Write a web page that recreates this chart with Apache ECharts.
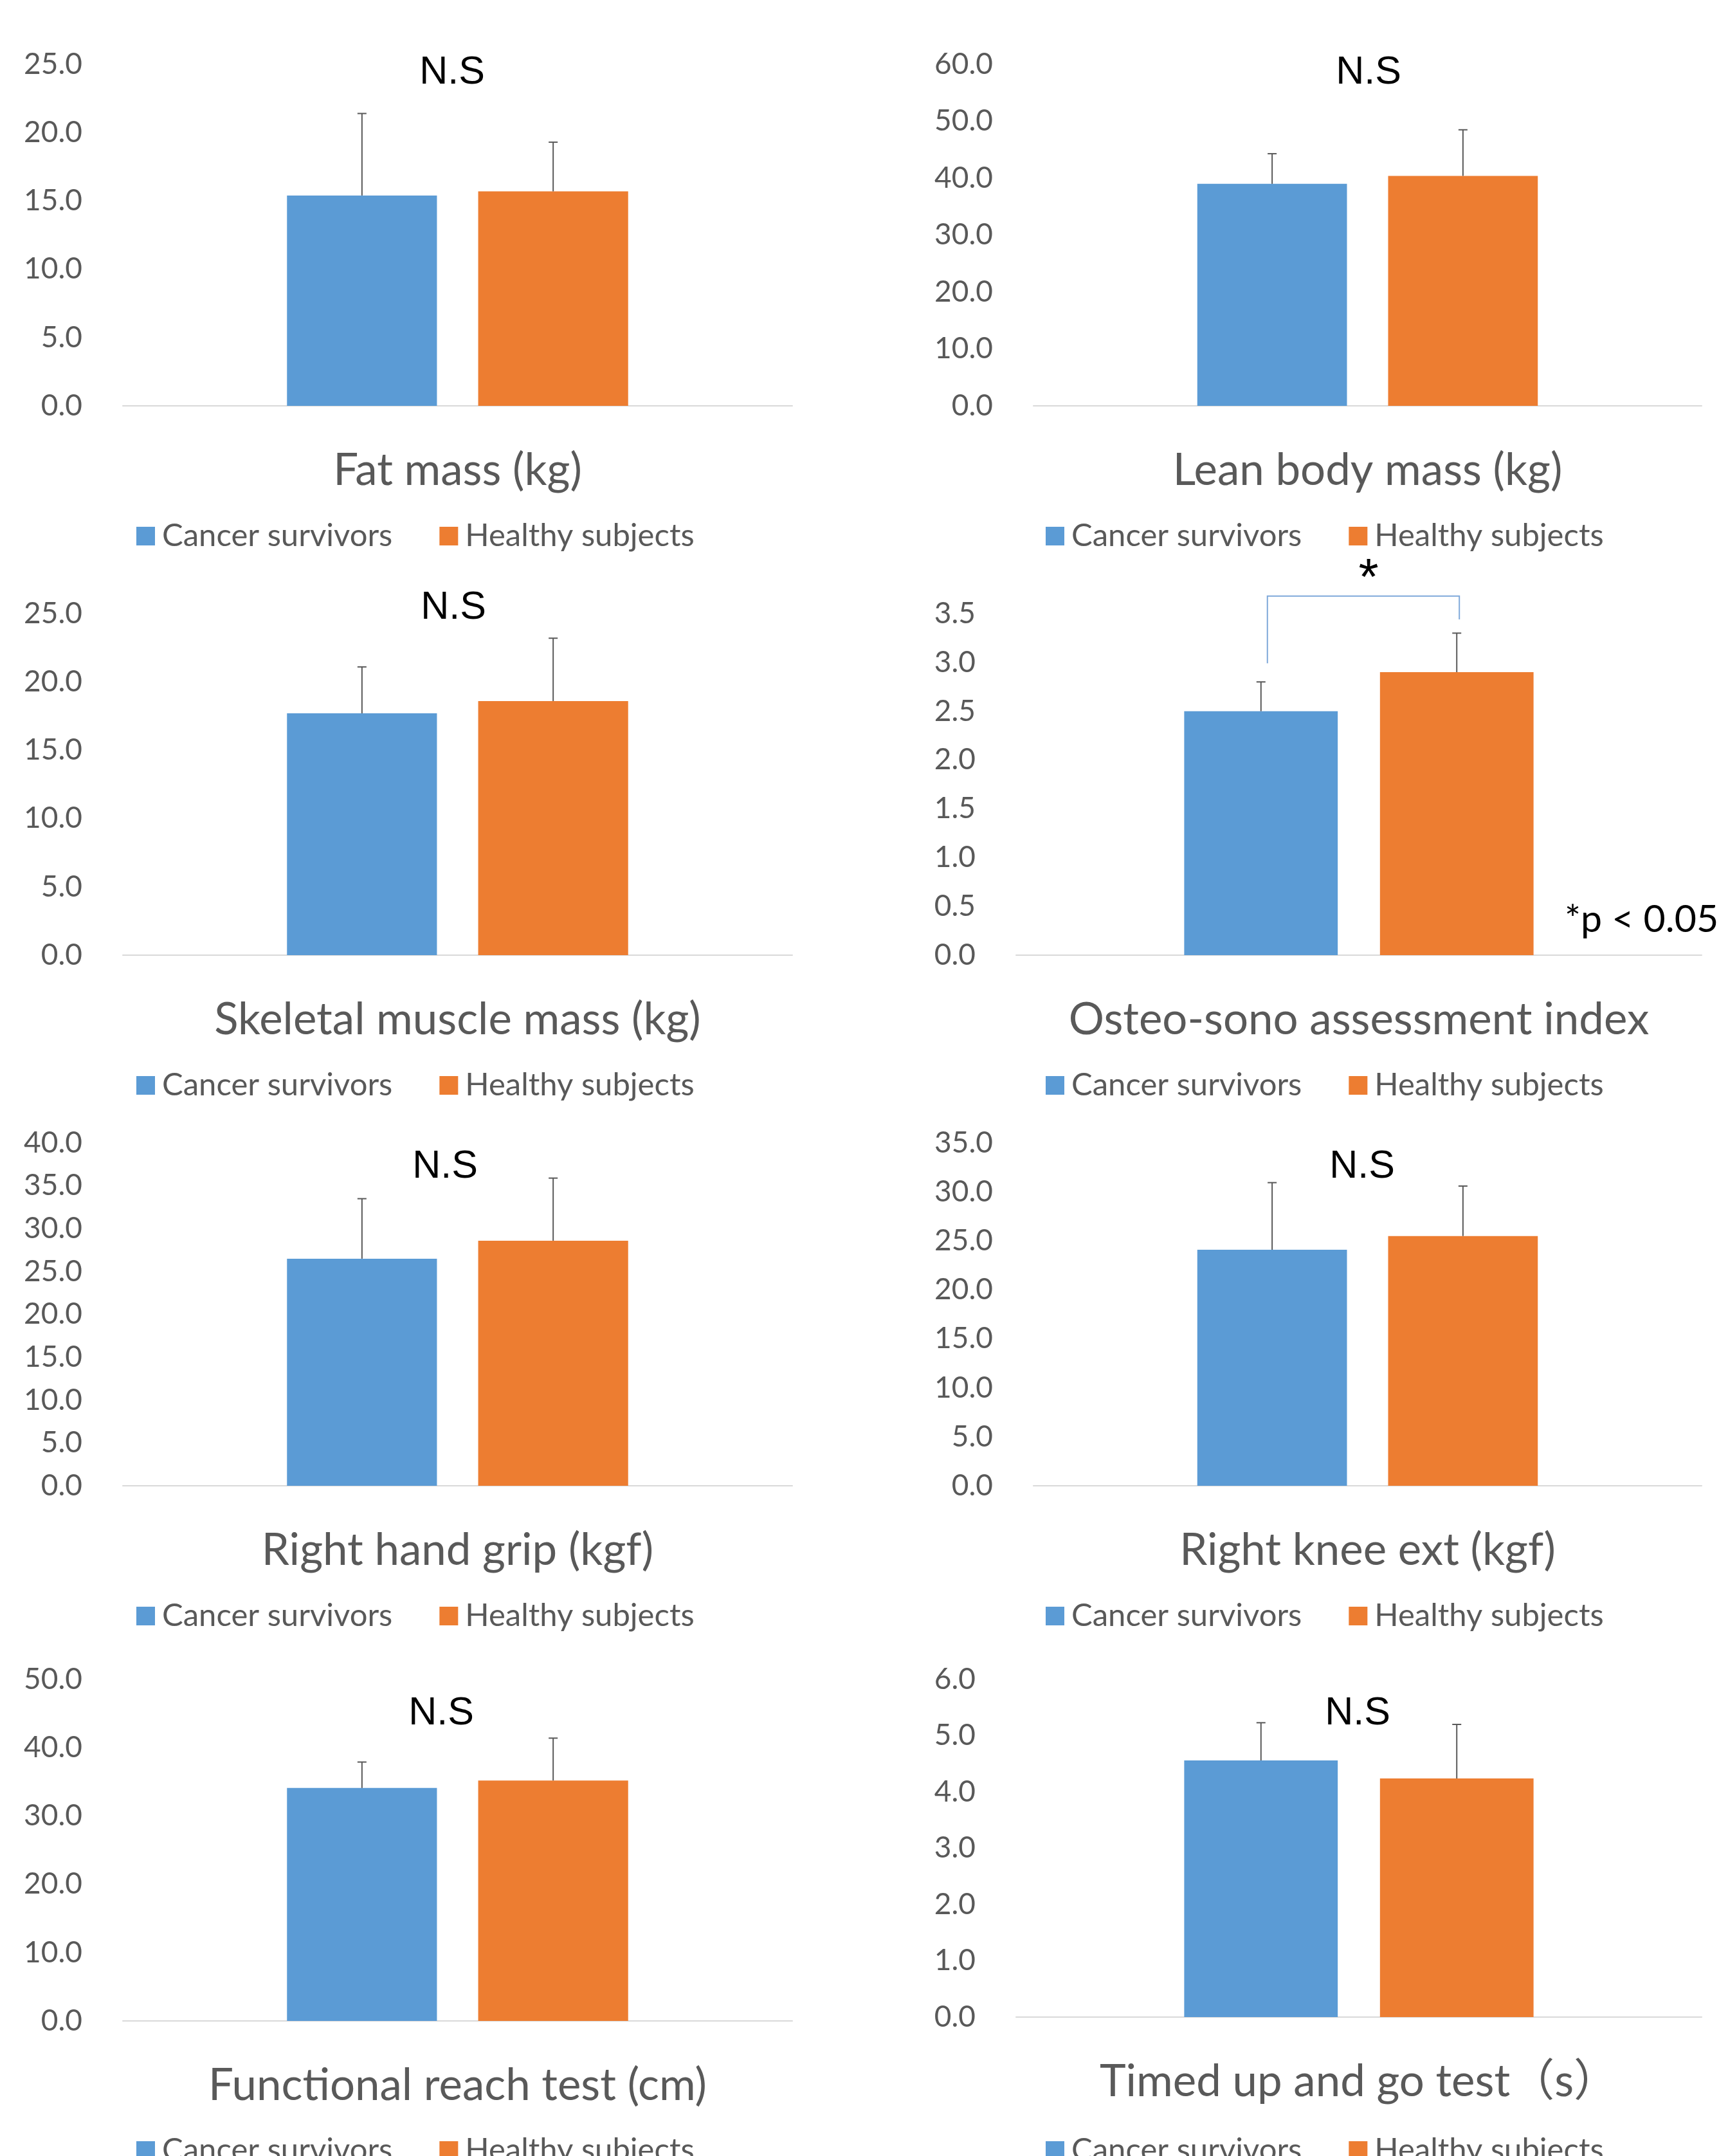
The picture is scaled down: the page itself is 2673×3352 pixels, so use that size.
<!DOCTYPE html>
<html style="height: 100%">
<head>
    <meta charset="utf-8">
    <title>Cancer survivors vs healthy subjects</title>
    <script src="https://cdn.jsdelivr.net/npm/echarts@6/dist/echarts.min.js"></script>
</head>
<body style="margin: 0; background: #fff">
    <div id="main" style="width: 2673px; height: 3352px"></div>
    <script type="text/javascript">
        var categories = [
            'Fat mass (kg)', 'Lean body mass (kg)', 'Skeletal muscle mass (kg)',
            'Osteo-sono assessment index', 'Right hand grip (kgf)', 'Right knee ext (kgf)',
            'Functional reach test (cm)', 'Timed up and go test（s）'
        ];
        var seriesNames = ['Cancer survivors', 'Healthy subjects'];
        var survivorsMean = [15.4, 39.0, 17.7, 2.50, 26.5, 24.1, 34.1, 4.56];
        var survivorsSD = [6.0, 5.3, 3.4, 0.30, 7.0, 6.85, 3.8, 0.67];
        var healthyMean = [15.7, 40.4, 18.6, 2.90, 28.6, 25.5, 35.2, 4.24];
        var healthySD = [3.6, 8.1, 4.6, 0.40, 7.3, 5.1, 6.2, 0.96];
        var axisMax = [25, 60, 25, 3.5, 40, 35, 50, 6];
        var axisStep = [5, 10, 5, 0.5, 5, 5, 10, 1];
        var sigLabels = ['N.S', 'N.S', 'N.S', '*', 'N.S', 'N.S', 'N.S', 'N.S'];
        // bracket for the significant panel: left leg bottom, top, right leg bottom
        var bracketY = [2.99, 3.68, 3.44];

        // layout of the 8 panels (pixels)
        var gridLeft = [191, 1607, 191, 1580, 191, 1607, 191, 1580];
        var gridTop = [100, 100, 954, 954, 1777, 1777, 2611, 2611];
        var gridWidth = [1041, 1039, 1041, 1066, 1041, 1039, 1041, 1066];
        var gridHeight = [531, 531, 531, 531, 533, 533, 531, 525];
        var markX = [703, 2128, 705, 2128, 692, 2118, 686, 2111];
        var markY = [113, 113, 945, 902, 1814, 1814, 2664, 2664];
        var markSize = [61, 61, 61, 80, 61, 61, 61, 61];
        var legendLeft = [207, 1621, 207, 1621, 207, 1621, 207, 1621];
        var legendTop = [804, 804, 1658, 1658, 2483, 2483, 3314, 3314];

        var BLUE = '#5B9BD5', ORANGE = '#ED7D31', GREY = '#595959';
        var FONT = 'Lato, "Noto Sans CJK JP", sans-serif';
        var BAR_W = 0.224, BAR_GAP = 0.275;

        var myChart = echarts.init(document.getElementById('main'));

        function barOffset(band, which) {
            var off = band * BAR_W / 2 * (1 + BAR_GAP);
            return which === 0 ? -off : off;
        }

        function renderError(params, api) {
            var band = api.size([1, 0])[0];
            var which = api.value(3);
            var base = api.coord([api.value(0), api.value(1)]);
            var top = api.coord([api.value(0), api.value(1) + api.value(2)]);
            var x = base[0] + barOffset(band, which);
            var st = { stroke: GREY, lineWidth: 2 };
            return {
                type: 'group',
                children: [
                    { type: 'line', shape: { x1: x, y1: base[1], x2: x, y2: top[1] }, style: st },
                    { type: 'line', shape: { x1: x - 7, y1: top[1], x2: x + 7, y2: top[1] }, style: st }
                ]
            };
        }

        function renderBracket(params, api) {
            var band = api.size([1, 0])[0];
            var pL = api.coord([0, api.value(1)]);
            var pT = api.coord([0, api.value(2)]);
            var pR = api.coord([0, api.value(3)]);
            var xL = pL[0] + barOffset(band, 0) + 10;
            var xR = pL[0] + barOffset(band, 1) + 4;
            return {
                type: 'polyline',
                shape: { points: [[xL, pL[1]], [xL, pT[1]], [xR, pT[1]], [xR, pR[1]]] },
                style: { stroke: '#7FA9DA', lineWidth: 2, fill: null }
            };
        }

        var grids = [], xAxes = [], yAxes = [], series = [], legends = [], texts = [];
        categories.forEach(function (name, i) {
            grids.push({ left: gridLeft[i], top: gridTop[i], width: gridWidth[i], height: gridHeight[i] });
            xAxes.push({
                gridIndex: i, type: 'category', data: [name],
                axisTick: { show: false },
                axisLine: { lineStyle: { color: '#D9D9D9', width: 2 } },
                axisLabel: { margin: 66, fontSize: 69, color: GREY, fontFamily: FONT, interval: 0 }
            });
            yAxes.push({
                gridIndex: i, type: 'value', min: 0, max: axisMax[i], interval: axisStep[i],
                axisLine: { show: false }, axisTick: { show: false }, splitLine: { show: false },
                axisLabel: {
                    margin: 63, fontSize: 46, color: GREY, fontFamily: FONT,
                    formatter: function (v) { return v.toFixed(1); }
                }
            });
            series.push({
                name: seriesNames[0], type: 'bar', xAxisIndex: i, yAxisIndex: i,
                data: [survivorsMean[i]], barWidth: (BAR_W * 100) + '%', barGap: (BAR_GAP * 100) + '%',
                itemStyle: { color: BLUE }, silent: true
            });
            series.push({
                name: seriesNames[1], type: 'bar', xAxisIndex: i, yAxisIndex: i,
                data: [healthyMean[i]], barWidth: (BAR_W * 100) + '%', barGap: (BAR_GAP * 100) + '%',
                itemStyle: { color: ORANGE }, silent: true
            });
            series.push({
                name: 'error' + i, type: 'custom', xAxisIndex: i, yAxisIndex: i, z: 5,
                renderItem: renderError, encode: { x: 0, y: 1 }, silent: true,
                data: [[0, survivorsMean[i], survivorsSD[i], 0], [0, healthyMean[i], healthySD[i], 1]]
            });
            legends.push({
                left: legendLeft[i], top: legendTop[i], data: seriesNames.slice(),
                icon: 'rect', itemWidth: 29, itemHeight: 29, itemGap: 73,
                textStyle: { fontSize: 49, color: GREY, fontFamily: FONT, padding: [0, 0, 0, 6] }
            });
            texts.push({
                type: 'text', x: markX[i], y: markY[i],
                style: {
                    text: sigLabels[i], font: markSize[i] + 'px "Liberation Sans", Arial, sans-serif', fill: '#000',
                    textAlign: 'center', textVerticalAlign: 'middle', align: 'center', verticalAlign: 'middle'
                }
            });
        });

        // bracket for Osteo-sono panel
        series.push({
            name: 'bracket', type: 'custom', xAxisIndex: 3, yAxisIndex: 3, z: 5, silent: true,
            renderItem: renderBracket, encode: { x: 0, y: 1 },
            data: [[0, bracketY[0], bracketY[1], bracketY[2]]]
        });
        texts.push({
            type: 'text', x: 2433, y: 1430,
            style: {
                text: '*p < 0.05', font: '59px Lato, sans-serif', fill: '#000',
                textAlign: 'left', textVerticalAlign: 'middle', align: 'left', verticalAlign: 'middle'
            }
        });

        var option = {
            animation: false,
            backgroundColor: '#fff',
            grid: grids,
            xAxis: xAxes,
            yAxis: yAxes,
            legend: legends,
            series: series,
            graphic: texts
        };

        myChart.setOption(option);
    </script>
</body>
</html>
